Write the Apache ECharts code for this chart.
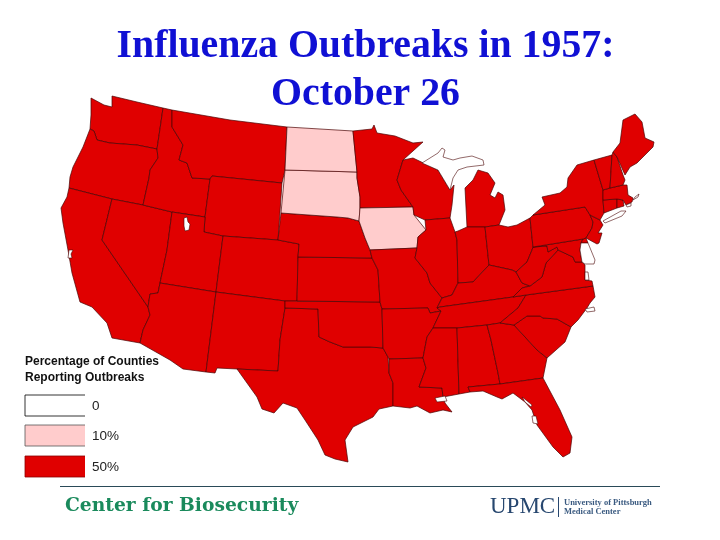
<!DOCTYPE html>
<html><head><meta charset="utf-8">
<style>html,body{margin:0;padding:0;background:#fff}#c{width:720px;height:540px}</style>
<script src="https://cdn.jsdelivr.net/npm/echarts@6/dist/echarts.min.js"></script>
</head><body><div id="c"></div>
<script>
const titleLines = ["Influenza Outbreaks in 1957:", "October 26"];
const legendTitle = ["Percentage of Counties", "Reporting Outbreaks"];
const legendValues = [0, 10, 50];
const legendLabels = ["0", "10%", "50%"];
const states10 = ["North Dakota", "South Dakota", "Iowa"];
const states50 = ["Washington","Oregon","California","Nevada","Idaho","Montana","Wyoming","Utah","Arizona","Colorado","New Mexico","Texas","Oklahoma","Kansas","Nebraska","Minnesota","Missouri","Arkansas","Louisiana","Wisconsin","Illinois","Michigan","Indiana","Ohio","Kentucky","Tennessee","Mississippi","Alabama","Georgia","Florida","South Carolina","North Carolina","Virginia","West Virginia","Maryland","Delaware","Pennsylvania","New Jersey","New York","Connecticut","Rhode Island","Massachusetts","Vermont","New Hampshire","Maine"];
const unshaded = ["Upper Michigan","Great Salt Lake","San Francisco Bay","Long Island","Delmarva","Chesapeake Mouth","Pamlico Sound","Lake Pontchartrain","Tampa Bay","Apalachee Shore","Cape Cod Islands A","Cape Cod Islands B"];

// Map outlines (x, y downward).
const shapes = {
"Washington":[[91,98],[104,105],[112,107],[112,96],[137,102],[163,108],[161,122],[157,149],[137,145],[110,143],[97,140],[94,131],[90,129],[91,115]],
"Oregon":[[90,129],[94,131],[97,140],[110,143],[137,145],[157,149],[158,158],[150,170],[149,178],[143,205],[112,199],[69,188],[70,177],[73,167],[83,147]],
"California":[[69,188],[112,199],[102,240],[148,307],[150,315],[143,330],[140,343],[112,338],[107,323],[92,307],[80,302],[72,273],[68,250],[63,223],[61,208],[67,197]],
"Nevada":[[112,199],[143,205],[172,212],[167,250],[160,283],[158,293],[150,294],[148,307],[102,240]],
"Idaho":[[163,108],[172,110],[172,127],[183,145],[179,160],[187,163],[192,178],[210,179],[205,217],[172,212],[143,205],[149,178],[150,170],[158,158],[157,149],[161,122]],
"Montana":[[172,110],[230,120],[287,127],[285,170],[282,183],[212,176],[210,179],[192,178],[187,163],[179,160],[183,145],[172,127]],
"Wyoming":[[212,176],[282,183],[280,212],[278,240],[223,236],[204,232],[205,217],[210,179]],
"Utah":[[172,212],[205,217],[204,232],[223,236],[216,292],[160,283],[167,250]],
"Arizona":[[160,283],[216,292],[206,372],[183,369],[170,360],[140,343],[143,330],[150,315],[148,307],[150,294],[158,293]],
"Colorado":[[223,236],[278,240],[299,244],[298,257],[297,301],[285,301],[216,292]],
"New Mexico":[[216,292],[285,301],[285,308],[280,340],[278,371],[237,369],[217,368],[215,373],[206,372]],
"Texas":[[285,308],[318,309],[319,337],[330,342],[343,347],[370,347],[383,348],[388,357],[389,373],[393,383],[393,400],[393,406],[379,409],[373,417],[353,427],[345,440],[348,462],[335,459],[325,455],[318,440],[305,420],[297,408],[283,403],[274,413],[262,409],[257,397],[247,383],[237,369],[278,371],[280,340]],
"Oklahoma":[[285,301],[380,302],[382,309],[383,348],[370,347],[343,347],[330,342],[319,337],[318,309],[285,308]],
"Kansas":[[298,257],[372,258],[378,270],[380,302],[297,301]],
"Nebraska":[[281,213],[337,217],[348,218],[359,221],[365,238],[370,250],[372,258],[298,257],[299,244],[278,240]],
"South Dakota":[[285,170],[357,172],[357,178],[360,197],[360,208],[359,221],[348,218],[337,217],[281,213]],
"North Dakota":[[287,127],[353,131],[357,172],[285,170]],
"Minnesota":[[353,131],[372,129],[374,125],[377,133],[395,136],[413,143],[423,142],[403,160],[397,180],[401,190],[413,207],[360,208],[360,197],[357,178],[357,172]],
"Iowa":[[360,208],[413,207],[414,215],[426,230],[418,237],[417,248],[370,250],[365,238],[359,221]],
"Missouri":[[370,250],[417,248],[415,258],[427,273],[430,283],[442,298],[437,308],[441,311],[430,313],[428,308],[382,309],[380,302],[378,270],[372,258]],
"Arkansas":[[382,309],[428,308],[430,313],[441,311],[433,328],[427,337],[423,358],[389,359],[388,357],[383,348]],
"Louisiana":[[389,359],[423,358],[426,368],[419,387],[442,388],[443,397],[445,403],[452,412],[443,410],[430,413],[417,406],[410,408],[393,406],[393,400],[393,383],[389,373]],
"Wisconsin":[[403,160],[413,158],[438,170],[450,190],[454,185],[452,205],[450,218],[425,220],[414,215],[413,207],[401,190],[397,180]],
"Illinois":[[425,220],[450,218],[455,232],[457,240],[458,283],[452,295],[442,298],[430,283],[427,273],[415,258],[417,248],[418,237],[426,230]],
"Michigan":[[467,227],[465,188],[473,180],[478,170],[488,173],[495,183],[490,195],[495,198],[498,192],[503,195],[505,210],[499,225],[485,227]],
"Indiana":[[455,232],[458,231],[467,227],[485,227],[489,265],[473,282],[458,283],[457,240]],
"Ohio":[[485,227],[499,225],[508,227],[517,225],[530,218],[533,247],[532,250],[527,262],[516,272],[512,270],[503,268],[489,265]],
"Kentucky":[[442,298],[452,295],[458,283],[473,282],[489,265],[503,268],[512,270],[516,272],[522,283],[530,286],[522,288],[513,297],[440,307],[437,308]],
"Tennessee":[[437,308],[440,307],[513,297],[526,295],[518,308],[500,323],[487,325],[457,328],[433,328],[441,311]],
"Mississippi":[[433,328],[457,328],[459,394],[443,397],[442,388],[419,387],[426,368],[423,358],[427,337]],
"Alabama":[[457,328],[487,325],[491,340],[498,373],[500,384],[468,387],[470,392],[459,394]],
"Georgia":[[487,325],[500,323],[514,325],[537,350],[547,358],[543,378],[500,384],[498,373],[491,340]],
"Florida":[[468,387],[500,384],[543,378],[560,410],[572,437],[570,453],[563,457],[553,447],[537,425],[532,410],[525,402],[513,393],[502,399],[497,397],[483,391],[470,392]],
"South Carolina":[[514,325],[527,316],[540,316],[543,318],[557,319],[571,327],[565,342],[547,358],[537,350]],
"North Carolina":[[526,295],[593,286],[595,297],[590,303],[587,308],[578,320],[571,327],[557,319],[543,318],[540,316],[527,316],[514,325],[500,323],[518,308]],
"Virginia":[[558,250],[573,257],[575,262],[582,262],[585,265],[585,280],[592,281],[593,286],[526,295],[513,297],[522,288],[530,286],[542,277],[546,263]],
"West Virginia":[[533,247],[547,246],[548,252],[557,247],[558,250],[546,263],[542,277],[530,286],[522,283],[516,272],[527,262],[532,250]],
"Maryland":[[533,247],[583,239],[581,243],[580,250],[582,262],[575,262],[573,257],[558,250],[557,247],[548,252],[547,246]],
"Delaware":[[583,239],[586,238],[588,243],[581,243]],
"Pennsylvania":[[530,218],[533,215],[585,207],[590,215],[593,222],[592,228],[586,238],[583,239],[533,247]],
"New Jersey":[[590,215],[600,220],[603,225],[598,233],[602,233],[599,243],[597,244],[586,238],[592,228],[593,222]],
"New York":[[533,215],[545,205],[542,197],[560,193],[567,187],[568,178],[577,165],[594,160],[603,190],[603,200],[604,213],[600,220],[590,215],[585,207]],
"Connecticut":[[603,200],[617,199],[617,208],[604,213]],
"Rhode Island":[[617,199],[623,200],[624,206],[617,208]],
"Massachusetts":[[603,190],[610,188],[623,185],[627,185],[628,195],[633,198],[632,202],[626,205],[623,200],[617,199],[603,200]],
"Vermont":[[594,160],[612,155],[610,188],[603,190]],
"New Hampshire":[[612,155],[613,152],[617,157],[623,175],[625,180],[623,185],[610,188]],
"Maine":[[613,152],[620,143],[623,120],[635,114],[642,122],[645,138],[654,142],[653,147],[637,163],[630,167],[625,175],[617,157]],
"Upper Michigan":[[422,163],[438,153],[442,148],[445,150],[443,157],[453,160],[460,158],[472,156],[483,160],[484,165],[467,167],[458,170],[453,178],[450,190],[438,170]],
"Great Salt Lake":[[184,218],[187,217],[188,222],[190,224],[189,230],[185,231],[184,226]],
"San Francisco Bay":[[69,250],[73,250],[71,254],[72,258],[68,258]],
"Long Island":[[603,221],[621,211],[626,211],[622,216],[605,223]],
"Delmarva":[[581,243],[588,243],[595,260],[594,264],[585,264],[582,262],[580,250]],
"Chesapeake Mouth":[[585,272],[588,272],[589,280],[585,280]],
"Pamlico Sound":[[585,309],[594,307],[595,311],[587,312]],
"Lake Pontchartrain":[[435,398],[445,396],[447,401],[437,402]],
"Tampa Bay":[[532,416],[536,416],[538,424],[533,423]],
"Apalachee Shore":[[522,397],[526,400],[532,405],[531,407],[525,402]],
"Cape Cod Islands A":[[626,205],[631,203],[631,206],[627,207]],
"Cape Cod Islands B":[[633,200],[638,197],[639,194],[635,197]]
};

const colors = {0:"#ffffff",10:"#ffcccc",50:"#e00000"};
const allNames = Object.keys(shapes);
const geo = {type:"FeatureCollection",features:allNames.map(n=>({type:"Feature",properties:{name:n},
  geometry:{type:"Polygon",coordinates:[shapes[n].map(p=>[p[0],-p[1]])]}}))};
echarts.registerMap("usa1957",geo);
const pts = allNames.flatMap(n=>shapes[n]);
const minX=Math.min(...pts.map(p=>p[0])),maxX=Math.max(...pts.map(p=>p[0]));
const minY=Math.min(...pts.map(p=>p[1])),maxY=Math.max(...pts.map(p=>p[1]));

function row(list,v){return list.map(n=>({name:n,value:v,itemStyle:{areaColor:colors[v],borderWidth:v===0?0.6:0.7}}));}
const mapData=[...row(states50,50),...row(states10,10),...row(unshaded,0)];

const legendG=[];
legendTitle.forEach((t,i)=>legendG.push({type:"text",left:25,top:356+i*15.5,style:{text:t,font:"bold 12px 'Liberation Sans'",fill:"#111"}}));
const ry=[395,425,456];
legendValues.forEach((v,i)=>{
  legendG.push({type:"rect",shape:{x:25,y:ry[i],width:60,height:21},style:{fill:colors[v]}});
  legendG.push({type:"polyline",shape:{points:[[85,ry[i]],[25,ry[i]],[25,ry[i]+21],[85,ry[i]+21]]},
    style:{fill:null,stroke:v===0?"#000":(v===10?"#555":"#8a0000"),lineWidth:0.8}});
  legendG.push({type:"text",left:92,top:ry[i]+4,style:{text:legendLabels[i],font:"13.5px 'Liberation Sans'",fill:"#222"}});
});

const chart=echarts.init(document.getElementById("c"),null,{renderer:"canvas"});
chart.setOption({
  animation:false,
  backgroundColor:"#fff",
  title:{text:titleLines.join("\n"),left:360.5,top:18,textAlign:"center",
    textStyle:{fontFamily:"Liberation Serif",fontWeight:"bold",fontSize:39.8,lineHeight:48,color:"#1010d4"}},
  series:[{type:"map",map:"usa1957",aspectScale:1,roam:false,silent:true,
    left:minX,top:minY,width:maxX-minX,height:maxY-minY,
    label:{show:false},emphasis:{disabled:true},select:{disabled:true},
    itemStyle:{borderColor:"#4a0505",borderWidth:0.7,areaColor:"#e00000"},
    data:mapData}],
  graphic:[...legendG,
    {type:"line",shape:{x1:60,y1:486.5,x2:660,y2:486.5},style:{stroke:"#2a4a58",lineWidth:1}},
    {type:"text",left:65,top:497,style:{text:"Center for Biosecurity",font:"bold 18.7px 'DejaVu Serif'",fill:"#1a8a5c"}},
    {type:"text",left:490,top:495,style:{text:"UPMC",font:"23px 'Liberation Serif'",fill:"#27476f"}},
    {type:"line",shape:{x1:558.5,y1:497,x2:558.5,y2:517},style:{stroke:"#27476f",lineWidth:1}},
    {type:"text",left:564,top:498.5,style:{text:"University of Pittsburgh",font:"bold 8.5px 'Liberation Serif'",fill:"#3a5a80"}},
    {type:"text",left:564,top:507.5,style:{text:"Medical Center",font:"bold 8.5px 'Liberation Serif'",fill:"#3a5a80"}}
  ]
});
</script></body></html>
